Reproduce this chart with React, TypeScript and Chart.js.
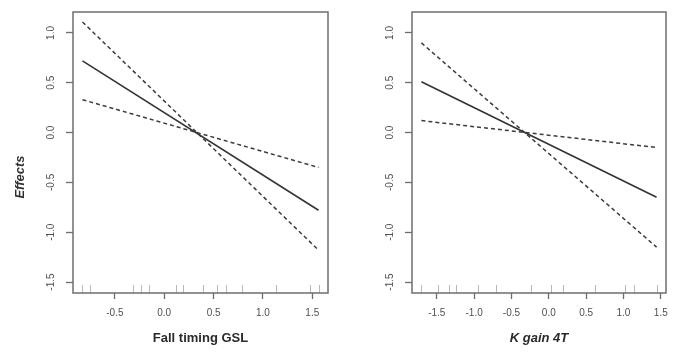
import React, { useEffect, useRef } from "react";
import { Chart, registerables } from "chart.js";

Chart.register(...registerables);

// ---- shared y axis ----
const yTickValues = [-1.5, -1.0, -0.5, 0.0, 0.5, 1.0];
const yMin = -1.61;
const yMax = 1.21;
const yTitle = "Effects";

// ---- left panel: Fall timing GSL ----
const leftTitle = "Fall timing GSL";
const leftTickValues = [-0.5, 0.0, 0.5, 1.0, 1.5];
const leftXMin = -0.924;
const leftXMax = 1.659;
const leftX = [-0.828, 1.563];
const leftFit = [0.72, -0.78];
const leftUpper = [1.11, -1.18];
const leftLower = [0.33, -0.35];
const leftRug = [-0.828, -0.747, -0.315, -0.237, -0.152, 0.119, 0.193, 0.396, 0.532, 0.623, 0.792, 1.131, 1.479, 1.563];

// ---- right panel: K gain 4T ----
const rightTitle = "K gain 4T";
const rightTickValues = [-1.5, -1.0, -0.5, 0.0, 0.5, 1.0, 1.5];
const rightXMin = -1.832;
const rightXMax = 1.57;
const rightX = [-1.706, 1.444];
const rightFit = [0.51, -0.65];
const rightUpper = [0.9, -1.15];
const rightLower = [0.12, -0.15];
const rightRug = [-1.706, -1.484, -1.336, -1.237, -0.948, -0.701, -0.232, 0.027, 0.192, 0.617, 1.019, 1.139, 1.444];

const AXIS_COLOR = "#6e6e6e";
const TEXT_COLOR = "#505050";
const FONT = "'Liberation Sans', Arial, sans-serif";

const framePlugin = {
  id: "frame",
  afterDatasetsDraw(chart: any, _args: any, opts: any) {
    const { ctx, chartArea: a, scales } = chart;
    ctx.save();
    // rug
    ctx.strokeStyle = "#b8b8b8";
    ctx.lineWidth = 1;
    for (const v of opts.rug || []) {
      const px = Math.round(scales.x.getPixelForValue(v)) + 0.5;
      ctx.beginPath();
      ctx.moveTo(px, a.bottom);
      ctx.lineTo(px, a.bottom - 8);
      ctx.stroke();
    }
    // box
    ctx.strokeStyle = AXIS_COLOR;
    ctx.lineWidth = 1.5;
    ctx.strokeRect(a.left, a.top, a.right - a.left, a.bottom - a.top);
    // y title
    if (opts.yTitle) {
      ctx.translate(20, 177);
      ctx.rotate(-Math.PI / 2);
      ctx.fillStyle = "#303030";
      ctx.font = `italic bold 13px ${FONT}`;
      ctx.textAlign = "center";
      ctx.textBaseline = "middle";
      ctx.fillText(opts.yTitle, 0, 0);
    }
    ctx.restore();
  },
};

function line(xs: number[], ys: number[]) {
  return xs.map((x, i) => ({ x, y: ys[i] }));
}

type PanelProps = {
  width: number;
  left: number;
  yAxisWidth: number;
  padRight: number;
  xs: number[];
  fit: number[];
  upper: number[];
  lower: number[];
  rug: number[];
  xTicks: number[];
  xMin: number;
  xMax: number;
  title: string;
  titleItalic: boolean;
  showYTitle: boolean;
};

function Panel(p: PanelProps) {
  const ref = useRef<HTMLCanvasElement | null>(null);
  useEffect(() => {
    if (!ref.current) return;
    const dashed = {
      borderColor: "#3c3c3c",
      borderWidth: 1.5,
      borderDash: [4, 3],
      pointRadius: 0,
      showLine: true,
      fill: false,
    };
    const chart = new Chart(ref.current, {
      type: "scatter",
      data: {
        datasets: [
          { data: line(p.xs, p.upper), ...dashed },
          { data: line(p.xs, p.lower), ...dashed },
          {
            data: line(p.xs, p.fit),
            borderColor: "#333333",
            borderWidth: 1.6,
            pointRadius: 0,
            showLine: true,
            fill: false,
          },
        ],
      },
      options: {
        animation: false,
        responsive: false,
        layout: { padding: { top: 11, right: p.padRight, left: 0, bottom: 0 } },
        plugins: {
          legend: { display: false },
          tooltip: { enabled: false },
          frame: { rug: p.rug, yTitle: p.showYTitle ? yTitle : null },
        } as any,
        scales: {
          x: {
            type: "linear",
            min: p.xMin,
            max: p.xMax,
            afterBuildTicks: (s: any) => {
              s.ticks = p.xTicks.map((v) => ({ value: v }));
            },
            afterFit: (s: any) => {
              s.height = 67;
            },
            grid: {
              drawOnChartArea: false,
              drawTicks: true,
              tickLength: 6,
              tickColor: AXIS_COLOR,
              tickWidth: 1.3,
            },
            border: { display: false },
            ticks: {
              color: TEXT_COLOR,
              font: { family: FONT, size: 10 },
              padding: 8,
              maxRotation: 0,
              autoSkip: false,
              callback: (v: any) => Number(v).toFixed(1),
            },
            title: {
              display: true,
              text: p.title,
              color: "#2a2a2a",
              font: { family: FONT, size: 13, weight: "bold", style: p.titleItalic ? "italic" : "normal" },
              padding: { top: 0, bottom: 14 },
            },
          },
          y: {
            type: "linear",
            min: yMin,
            max: yMax,
            afterBuildTicks: (s: any) => {
              s.ticks = yTickValues.map((v) => ({ value: v }));
            },
            afterFit: (s: any) => {
              s.width = p.yAxisWidth;
            },
            grid: {
              drawOnChartArea: false,
              drawTicks: true,
              tickLength: 7,
              tickColor: AXIS_COLOR,
              tickWidth: 1.3,
            },
            border: { display: false },
            ticks: {
              color: TEXT_COLOR,
              font: { family: FONT, size: 10 },
              padding: 6,
              minRotation: 90,
              maxRotation: 90,
              crossAlign: "center",
              autoSkip: false,
              callback: (v: any) => Number(v).toFixed(1),
            },
          },
        },
      } as any,
      plugins: [framePlugin],
    });
    return () => chart.destroy();
  }, []);
  return (
    <canvas
      ref={ref}
      width={p.width}
      height={360}
      style={{ position: "absolute", left: p.left, top: 0, width: p.width, height: 360 }}
    />
  );
}

export default function App() {
  return (
    <div style={{ position: "absolute", left: 0, top: 0, width: 679, height: 360, background: "#ffffff" }}>
      <Panel
        width={340}
        left={0}
        yAxisWidth={73}
        padRight={12}
        xs={leftX}
        fit={leftFit}
        upper={leftUpper}
        lower={leftLower}
        rug={leftRug}
        xTicks={leftTickValues}
        xMin={leftXMin}
        xMax={leftXMax}
        title={leftTitle}
        titleItalic={false}
        showYTitle={true}
      />
      <Panel
        width={339}
        left={340}
        yAxisWidth={72}
        padRight={13}
        xs={rightX}
        fit={rightFit}
        upper={rightUpper}
        lower={rightLower}
        rug={rightRug}
        xTicks={rightTickValues}
        xMin={rightXMin}
        xMax={rightXMax}
        title={rightTitle}
        titleItalic={true}
        showYTitle={false}
      />
    </div>
  );
}
